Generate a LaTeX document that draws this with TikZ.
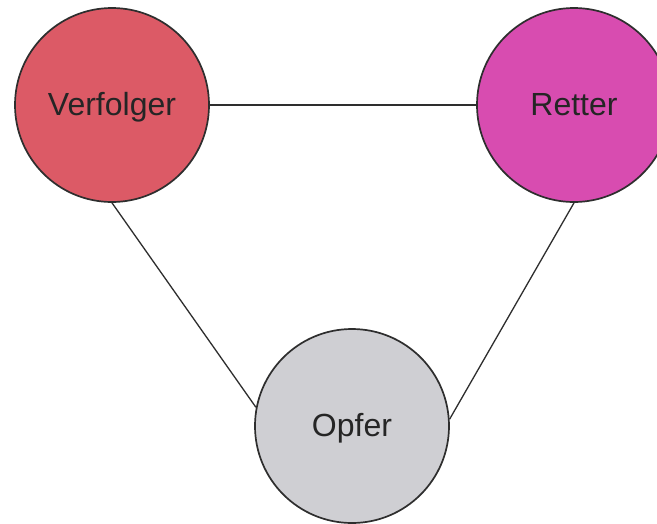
\documentclass[tikz,border=0pt]{standalone}
\usepackage{fontspec}
\setmainfont{Liberation Sans}
\definecolor{verfc}{HTML}{DC5A66}
\definecolor{retc}{HTML}{D84CB0}
\definecolor{opfc}{HTML}{CFCFD3}
\definecolor{edgec}{HTML}{2E2E2E}
\definecolor{txtc}{HTML}{252525}
\begin{document}
\begin{tikzpicture}[x=1pt,y=-1pt,
  rolle/.style={circle,draw=edgec,line width=1.7pt,minimum size=194pt,inner sep=0pt,
    text=txtc,font=\fontsize{32}{38}\selectfont,text height=20pt,text depth=0pt},
  verb/.style={draw=edgec,line width=1.3pt}]
\useasboundingbox (0,0) rectangle (657,523);
\clip (0,0) rectangle (657,523);
\fill[white] (0,0) rectangle (657,523);
\node[rolle,fill=verfc] (V) at (112,105) {Verfolger};
\node[rolle,fill=retc] (R) at (574,105) {Retter};
\node[rolle,fill=opfc] (O) at (352,426) {Opfer};
\draw[verb] (V.east) -- (R.west);
\draw[verb] (V.south) -- (O.169);
\draw[verb] (R.south) -- (O.4);
\end{tikzpicture}
\end{document}
